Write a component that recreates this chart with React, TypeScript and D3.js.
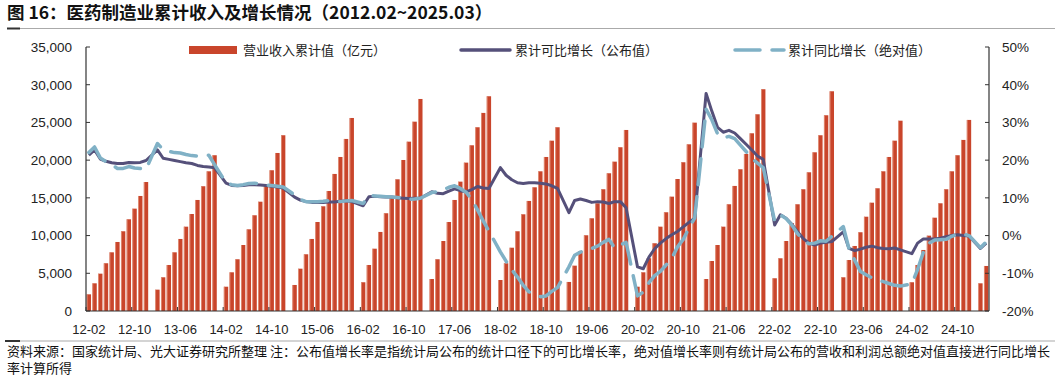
import React from "react";
import * as d3 from "d3";

// ---- Data (2012-02 .. 2025-03, monthly; January has no data) ----
const startYear = 2012;
const startMonth = 2;
const monthCount = 158;

// 营业收入累计值（亿元）
const revenue: (number | null)[] = [
  2210, 3670, 4950, 6330, 7780, 9150, 10570, 12160, 13570, 15250, 17100,
  null, 2830, 4470, 6100, 7780, 9550, 11180, 12860, 14720, 16540, 18520, 20650,
  null, 3220, 5130, 6860, 8750, 10830, 12690, 14490, 16580, 18660, 20950, 23300,
  null, 3450, 5610, 7520, 9550, 11800, 13880, 15910, 18170, 20420, 22810, 25590,
  null, 3810, 6100, 8260, 10480, 12960, 15250, 17460, 20020, 22450, 25100, 28110,
  null, 4240, 6860, 9280, 11800, 14720, 17150, 19670, 21970, 24360, 26260, 28470,
  null, 4110, 6330, 8390, 10570, 12820, 14590, 16400, 18520, 20420, 22580, 24360,
  null, 3850, 6010, 7920, 10040, 12290, 14280, 16140, 18260, 19800, 21710, 24000,
  null, 3220, 5130, 7000, 8980, 11180, 13090, 15160, 17500, 19720, 22100, 24970,
  null, 4240, 6630, 8750, 11180, 14150, 16580, 18790, 20820, 23560, 26080, 29400,
  null, 4340, 6990, 9280, 11630, 14150, 16140, 18390, 21040, 23300, 25950, 29130,
  null, 4470, 6760, 8620, 10440, 12500, 14360, 16270, 18520, 20420, 22580, 25230,
  null, 3810, 6100, 8090, 9990, 12370, 14280, 16140, 18520, 20650, 22680, 25330,
  null, 3670, 5970,
];

// 累计可比增长（公布值）%
const growthPublished: (number | null)[] = [
  21.3, 22.7, 20.3, 19.7, 19.3, 19.1, 19.1, 19.4, 19.3, 19.4, 19.9,
  null, 22.7, 20.5, 20.2, 19.9, 19.6, 19.3, 19.1, 18.6, 18.3, 18.2, 18.0,
  null, 13.9, 13.3, 13.2, 13.3, 13.5, 13.5, 13.4, 13.3, 13.1, 12.9, 12.6,
  null, 10.2, 9.4, 9.0, 8.8, 8.8, 8.8, 8.9, 8.9, 9.1, 9.2, 9.0,
  null, 7.9, 10.3, 10.4, 10.3, 10.2, 10.2, 10.0, 9.9, 9.8, 9.9, 9.9,
  null, 11.6, 11.2, 11.1, 11.8, 12.4, 11.9, 11.6, 12.2, 13.0, 12.6, 12.5,
  null, 18.0, 16.0, 14.8, 14.0, 13.8, 14.0, 14.0, 13.9, 13.7, 13.2, 12.5,
  null, 6.1, 9.3, 9.7, 9.3, 8.8, 9.0, 8.9, 8.5, 9.0, 9.0, 7.4,
  null, -8.3, -8.8, -5.7, -3.5, -2.0, -0.8, 0.2, 1.1, 2.3, 3.5, 4.6,
  null, 37.7, 33.0, 28.7, 27.4, 27.9, 27.2, 25.7, 24.2, 22.7, 21.1, 20.2,
  null, 2.8, 5.5, 4.6, 3.0, 1.0, -0.8, -2.0, -2.5, -2.0, -1.8, -1.6,
  null, 1.0, -3.4, -4.0, -3.6, -3.1, -2.8, -3.2, -3.4, -3.5, -3.3, -3.8,
  null, -4.8, -2.0, -0.9, -0.9, -0.9, -0.7, -0.3, 0.0, 0.2, 0.0, -0.1,
  null, -3.4, -2.0,
];

// 累计同比增长（绝对值）%
const growthAbsolute: (number | null)[] = [
  22.0, 23.5, 20.6, 19.6, 18.8, 17.8, 17.8, 18.3, 17.9, 17.8, 17.6,
  null, 24.4, 22.8, 22.3, 22.0, 21.9, 21.5, 21.2, 21.1, 21.3, 21.3, 18.8,
  null, 14.0, 13.5, 13.3, 13.5, 13.8, 13.9, 13.6, 13.4, 13.3, 13.1, 12.9,
  null, 10.8, 9.6, 9.0, 9.0, 9.0, 9.1, 9.3, 9.2, 9.0, 9.2, 9.3,
  null, 8.5, 10.6, 10.5, 10.4, 10.3, 10.2, 10.1, 9.8, 9.6, 9.7, 9.9,
  null, 11.4, 11.6, 12.1, 12.8, 13.2, 12.5, 11.5, 9.6, 6.8, 3.9, 1.2,
  null, -4.3, -6.8, -9.1, -11.0, -13.2, -14.9, -15.8, -16.2, -16.0, -14.8, -13.8,
  null, -8.3, -5.2, -4.4, -3.9, -3.4, -2.8, -1.8, -1.0, -3.3, -2.5, -1.8,
  null, -16.0, -15.0, -12.5, -10.6, -9.5, -7.8, -6.0, -3.0, -1.0, 2.0, 4.6,
  null, 33.5, 30.7, 27.0, 25.9, 26.3, 25.7, 24.0, 22.3, 20.5, 19.2, 18.0,
  null, 3.8, 5.5, 4.5, 2.8, 0.5, -1.2, -2.2, -2.0, -1.4, -1.5, -0.2,
  null, 2.4, -3.5, -6.5, -9.5, -10.4, -11.2, -11.7, -12.2, -12.7, -13.2, -13.4,
  null, -12.8, -9.0, -4.5, -2.0, -1.2, -1.1, -1.0, -0.2, 0.4, 0.4, 0.0,
  null, -3.2, -1.7,
];

const leftTicks = [0, 5000, 10000, 15000, 20000, 25000, 30000, 35000];
const rightTicks = [-20, -10, 0, 10, 20, 30, 40, 50];
const labelEvery = 8;

const title = "图 16：医药制造业累计收入及增长情况（2012.02~2025.03）";
const legendNames = ["营业收入累计值（亿元）", "累计可比增长（公布值）", "累计同比增长（绝对值）"];
const footLine1 =
  "资料来源：国家统计局、光大证券研究所整理 注：公布值增长率是指统计局公布的统计口径下的可比增长率，绝对值增长率则有统计局公布的营收和利润总额绝对值直接进行同比增长";
const footLine2 = "率计算所得";

// ---- Styling ----
const W = 1055;
const H = 379;
const plot = { left: 86, right: 989, top: 47, bottom: 311 };
const barColor = "#C9452B";
const barEdge = "#E3967F";
const purple = "#55507A";
const blue = "#80B1C6";
const cjk = "'Noto Sans CJK SC', 'Noto Sans', sans-serif";
const latin = "'Liberation Sans', Arial, sans-serif";

function monthLabel(i: number) {
  const total = startYear * 12 + (startMonth - 1) + i;
  const y = Math.floor(total / 12);
  const m = (total % 12) + 1;
  return `${String(y).slice(2)}-${String(m).padStart(2, "0")}`;
}

export default function App() {
  const idx = d3.range(monthCount);
  const x = d3
    .scaleBand<number>()
    .domain(idx)
    .range([plot.left, plot.right])
    .paddingInner(0.24)
    .paddingOuter(0.12);
  const step = x.step();
  const cx = (i: number) => (x(i) as number) + x.bandwidth() / 2;
  const yL = d3.scaleLinear().domain([0, 35000]).range([plot.bottom, plot.top]);
  const yR = d3.scaleLinear().domain([-20, 50]).range([plot.bottom, plot.top]);

  const mkLine = (arr: (number | null)[]) => {
    const pts = idx.filter((i) => arr[i] != null).map((i) => [cx(i), yR(arr[i] as number)] as [number, number]);
    return d3.line().curve(d3.curveLinear)(pts) || "";
  };

  const fmt = d3.format(",");
  const labelIdx = idx.filter((i) => i % labelEvery === 0);
  const boundaryTicks = d3.range(0, monthCount + 1, labelEvery).map((i) => plot.left + i * step);

  return (
    <svg
      width={W}
      height={H}
      viewBox={`0 0 ${W} ${H}`}
      style={{ position: "absolute", left: 0, top: 0, background: "#fff" }}
    >
      <rect x={0} y={0} width={W} height={H} fill="#fff" />
      {/* Title */}
      <text x={7} y={19} fontFamily={cjk} fontWeight="bold" fontSize={17.5} fill="#111">
        {title}
      </text>
      <line x1={7} x2={W} y1={28.5} y2={28.5} stroke="#aaa" strokeWidth={1.2} />
      <line x1={7} x2={20} y1={28.5} y2={28.5} stroke="#333" strokeWidth={2} />

      {/* Bars */}
      {idx
        .filter((i) => revenue[i] != null)
        .map((i) => {
          const y0 = yL(revenue[i] as number);
          return (
            <g key={"b" + i}>
              <rect x={x(i)} y={y0} width={x.bandwidth()} height={plot.bottom - y0} fill={barColor} />
              <rect x={x(i)} y={y0} width={0.8} height={plot.bottom - y0} fill={barEdge} />
            </g>
          );
        })}

      {/* Axes */}
      <line x1={plot.left} x2={plot.right} y1={plot.bottom} y2={plot.bottom} stroke="#333" strokeWidth={1.2} />
      <line x1={plot.left} x2={plot.left} y1={plot.top} y2={plot.bottom} stroke="#333" strokeWidth={1.2} />
      <line x1={plot.right} x2={plot.right} y1={plot.top} y2={plot.bottom} stroke="#333" strokeWidth={1.2} />
      {leftTicks.map((t) => (
        <g key={"lt" + t}>
          <line x1={plot.left} x2={plot.left + 4} y1={yL(t)} y2={yL(t)} stroke="#333" strokeWidth={1} />
          <text x={72} y={yL(t)} dy="0.36em" textAnchor="end" fontFamily={latin} fontSize={13.5} fill="#222">
            {fmt(t)}
          </text>
        </g>
      ))}
      {rightTicks.map((t) => (
        <g key={"rt" + t}>
          <line x1={plot.right - 4} x2={plot.right} y1={yR(t)} y2={yR(t)} stroke="#333" strokeWidth={1} />
          <text x={1002} y={yR(t)} dy="0.36em" textAnchor="start" fontFamily={latin} fontSize={13.5} fill="#222">
            {t}%
          </text>
        </g>
      ))}
      {boundaryTicks.map((bx, k) => (
        <line key={"xt" + k} x1={bx} x2={bx} y1={plot.bottom} y2={plot.bottom - 4} stroke="#333" strokeWidth={1} />
      ))}
      {labelIdx.map((i) => (
        <text key={"xl" + i} x={cx(i)} y={334} textAnchor="middle" fontFamily={latin} fontSize={13} fill="#222">
          {monthLabel(i)}
        </text>
      ))}

      {/* Lines */}
      <path d={mkLine(growthPublished)} fill="none" stroke={purple} strokeWidth={3} strokeLinejoin="round" />
      <path
        d={mkLine(growthAbsolute)}
        fill="none"
        stroke={blue}
        strokeWidth={3.5}
        strokeDasharray="26,12"
        strokeLinecap="round"
        strokeLinejoin="round"
      />

      {/* Legend */}
      <rect x={189} y={46} width={48} height={8} fill={barColor} />
      <text x={243} y={50} dy="0.36em" fontFamily={cjk} fontSize={13} fill="#222">
        {legendNames[0]}
      </text>
      <line x1={461} x2={510} y1={50} y2={50} stroke={purple} strokeWidth={3.5} strokeLinecap="round" />
      <text x={515} y={50} dy="0.36em" fontFamily={cjk} fontSize={13} fill="#222">
        {legendNames[1]}
      </text>
      <line
        x1={735}
        x2={784}
        y1={50}
        y2={50}
        stroke={blue}
        strokeWidth={3.5}
        strokeDasharray="25,12"
        strokeLinecap="round"
      />
      <text x={788} y={50} dy="0.36em" fontFamily={cjk} fontSize={13} fill="#222">
        {legendNames[2]}
      </text>

      {/* Footer */}
      <line x1={5} x2={W} y1={341} y2={341} stroke="#aaa" strokeWidth={1.2} />
      <line x1={5} x2={20} y1={341} y2={341} stroke="#333" strokeWidth={2} />
      <text x={7} y={355.5} fontFamily={cjk} fontSize={13} fill="#111">
        {footLine1}
      </text>
      <text x={7} y={373} fontFamily={cjk} fontSize={13} fill="#111">
        {footLine2}
      </text>
    </svg>
  );
}
